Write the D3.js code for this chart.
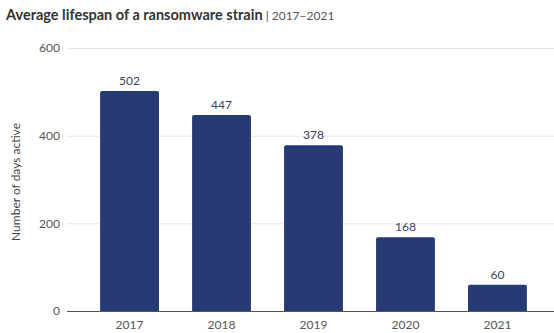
<!DOCTYPE html>
<html><head><meta charset="utf-8">
<script src="https://cdn.jsdelivr.net/npm/d3@7"></script>
<style>body{margin:0;background:#fff}svg{display:block}</style>
</head><body>
<script>
const years = ["2017","2018","2019","2020","2021"];
const days = [502, 447, 378, 168, 60];
const yTicks = [0, 200, 400, 600];

const W = 554, H = 333;
const svg = d3.select("body").append("svg").attr("width", W).attr("height", H);
const font = "Lato, 'Open Sans', sans-serif";

const x = d3.scaleBand().domain(years).range([67, 560]).paddingInner(0.36).paddingOuter(0.36);
const y = d3.scaleLinear().domain([0, 600]).range([311, 48]);

// title
const t = svg.append("text").attr("x", 6).attr("y", 20).attr("font-family", font).attr("fill", "#333");
t.append("tspan").attr("font-size", 14.5).attr("font-weight", 700).text("Average lifespan of a ransomware strain");
t.append("tspan").attr("font-size", 12).attr("fill", "#555").text(" | 2017–2021");

// grid
const yAxis = d3.axisLeft(y).tickValues(yTicks).tickSize(-(554 - 67)).tickPadding(5);
const ga = svg.append("g").attr("transform", "translate(67,0)").call(yAxis);
ga.select(".domain").remove();
ga.selectAll(".tick line").attr("stroke", "#e4e4e4").attr("stroke-width", 1);
ga.selectAll(".tick text").attr("font-family", font).attr("font-size", 12).attr("fill", "#555").attr("dx", -2);

// y label
svg.append("text").attr("transform", "translate(20,182) rotate(-90)")
  .attr("text-anchor", "middle").attr("font-family", font).attr("font-size", 12)
  .attr("fill", "#444").text("Number of days active");

// bars
const data = years.map((yr, i) => ({yr, v: days[i]}));
svg.append("g").selectAll("path").data(data).join("path")
  .attr("fill", "#263a73")
  .attr("d", d => {
    const x0 = x(d.yr), w = x.bandwidth(), y0 = y(d.v), y1 = y(0), r = 2;
    return `M${x0},${y1}V${y0 + r}Q${x0},${y0} ${x0 + r},${y0}H${x0 + w - r}Q${x0 + w},${y0} ${x0 + w},${y0 + r}V${y1}Z`;
  });

// value labels
svg.append("g").selectAll("text").data(data).join("text")
  .attr("x", d => x(d.yr) + x.bandwidth() / 2).attr("y", d => y(d.v) - 6)
  .attr("text-anchor", "middle").attr("font-family", font).attr("font-size", 12)
  .attr("fill", "#3a4258").text(d => d.v);

// baseline
svg.append("line").attr("x1", 67).attr("x2", 554).attr("y1", y(0) + 0.5).attr("y2", y(0) + 0.5)
  .attr("stroke", "#555").attr("stroke-width", 1);

// x labels
const xAxis = d3.axisBottom(x).tickSize(0).tickPadding(9);
const gx = svg.append("g").attr("transform", `translate(0,${y(0)})`).call(xAxis);
gx.select(".domain").remove();
gx.selectAll(".tick text").attr("font-family", font).attr("font-size", 12).attr("fill", "#555");
</script>
</body></html>
